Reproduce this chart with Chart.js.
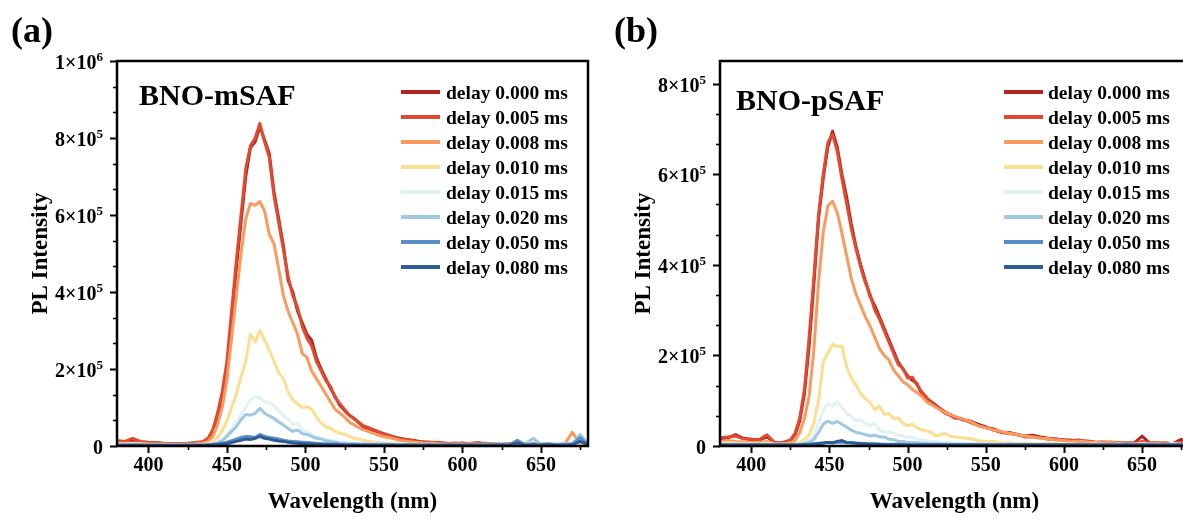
<!DOCTYPE html>
<html>
<head>
<meta charset="utf-8">
<title>Time-resolved PL spectra</title>
<script src="https://cdn.jsdelivr.net/npm/chart.js@4.4.0/dist/chart.umd.min.js"></script>
<style>
    html, body { margin: 0; padding: 0; background: #fff; overflow: hidden; }
    body { width: 1183px; height: 519px; position: relative; }
    .panel { position: absolute; top: 0; width: 600px; height: 519px; }
    #panelA { left: 0; }
    #panelB { left: 600px; }
</style>
</head>
<body>
<div class="panel" id="panelA"><canvas id="chartA" width="600" height="519"></canvas></div>
<div class="panel" id="panelB"><canvas id="chartB" width="600" height="519"></canvas></div>

<script>
// ================= DATA =================
// PL intensity in units of 1e5 counts, one array per delay time

const delayLabels = ['delay 0.000 ms', 'delay 0.005 ms', 'delay 0.008 ms', 'delay 0.010 ms',
                     'delay 0.015 ms', 'delay 0.020 ms', 'delay 0.050 ms', 'delay 0.080 ms'];
const lineColors = ['#b3241f', '#e04a30', '#f99b5e', '#fddd8f', '#e2f2f3', '#9fc8e1', '#5a8ec6', '#2d5b96'];

const xTicks = [400, 450, 500, 550, 600, 650];

// --- BNO-mSAF ---
const wavelengthA = [380, 385, 390, 395, 400, 405, 410, 415, 420, 425, 430, 435,
    438, 441, 444, 447, 450, 453, 456, 459, 462, 465, 468, 471, 474, 477, 480, 483, 486, 489, 492, 495, 498,
    501, 504, 507, 510, 513, 516, 519, 522, 525, 528, 531, 534, 537, 540,
    545, 550, 555, 560, 565, 570, 575, 580, 585, 590, 595, 600, 605, 610, 615, 620, 625, 630, 635, 640,
    645, 650, 655, 660, 665, 670, 675, 680];

const mSAF000 = [0.12, 0.10, 0.15, 0.10, 0.09, 0.08, 0.06, 0.05, 0.05, 0.06, 0.08, 0.09,
    0.15, 0.35, 0.75, 1.30, 2.00, 3.30, 4.60, 5.80, 7.00, 7.75, 7.90, 8.30, 7.95, 7.60, 6.60, 5.90, 5.20, 4.30, 4.00, 3.50, 3.20,
    2.90, 2.75, 2.30, 2.00, 1.75, 1.50, 1.28, 1.05, 0.92, 0.80, 0.72, 0.60, 0.50, 0.45,
    0.38, 0.32, 0.25, 0.20, 0.16, 0.14, 0.10, 0.10, 0.08, 0.07, 0.06, 0.08, 0.05, 0.06, 0.07, 0.04, 0.05, 0.04, 0.06, 0.05,
    0.04, 0.03, 0.05, 0.04, 0.05, 0.06, 0.05, 0.04];
const mSAF005 = [0.14, 0.12, 0.20, 0.12, 0.10, 0.09, 0.07, 0.06, 0.05, 0.07, 0.09, 0.12,
    0.20, 0.42, 0.85, 1.40, 2.20, 3.50, 4.80, 6.00, 7.20, 7.80, 8.00, 8.38, 7.90, 7.50, 6.50, 5.80, 5.10, 4.40, 3.90, 3.60, 3.10,
    2.80, 2.60, 2.20, 1.95, 1.70, 1.55, 1.25, 1.10, 0.95, 0.80, 0.70, 0.62, 0.52, 0.48,
    0.40, 0.30, 0.26, 0.18, 0.17, 0.12, 0.11, 0.09, 0.10, 0.06, 0.08, 0.06, 0.07, 0.09, 0.05, 0.06, 0.04, 0.06, 0.05, 0.04,
    0.06, 0.05, 0.04, 0.06, 0.04, 0.08, 0.06, 0.05];
const mSAF008 = [0.08, 0.07, 0.08, 0.07, 0.06, 0.05, 0.05, 0.04, 0.04, 0.05, 0.06, 0.08,
    0.12, 0.25, 0.55, 1.00, 1.70, 2.80, 3.90, 5.00, 5.90, 6.30, 6.25, 6.35, 6.10, 5.50, 5.25, 4.60, 3.90, 3.50, 3.20, 2.90, 2.40,
    2.30, 1.95, 1.75, 1.55, 1.35, 1.15, 0.95, 0.85, 0.75, 0.62, 0.55, 0.48, 0.42, 0.38,
    0.30, 0.24, 0.20, 0.15, 0.12, 0.10, 0.08, 0.07, 0.06, 0.05, 0.06, 0.05, 0.04, 0.05, 0.04, 0.05, 0.04, 0.03, 0.04, 0.05,
    0.03, 0.04, 0.03, 0.05, 0.04, 0.36, 0.05, 0.04];
const mSAF010 = [0.05, 0.05, 0.06, 0.05, 0.04, 0.04, 0.04, 0.04, 0.03, 0.04, 0.04, 0.05,
    0.06, 0.12, 0.22, 0.40, 0.65, 1.00, 1.35, 1.80, 2.20, 2.90, 2.70, 3.00, 2.75, 2.50, 2.20, 1.90, 1.75, 1.40, 1.20, 1.10, 1.00,
    1.02, 0.95, 0.75, 0.60, 0.50, 0.45, 0.38, 0.33, 0.30, 0.25, 0.20, 0.18, 0.15, 0.12,
    0.10, 0.08, 0.07, 0.06, 0.05, 0.05, 0.04, 0.05, 0.04, 0.04, 0.03, 0.04, 0.05, 0.04, 0.03, 0.04, 0.04, 0.03, 0.05, 0.04,
    0.03, 0.04, 0.05, 0.03, 0.04, 0.06, 0.04, 0.03];
const mSAF015 = [0.04, 0.04, 0.05, 0.04, 0.03, 0.03, 0.03, 0.03, 0.03, 0.03, 0.04, 0.04,
    0.05, 0.06, 0.10, 0.18, 0.30, 0.45, 0.62, 0.80, 1.00, 1.20, 1.28, 1.25, 1.15, 1.12, 1.05, 0.92, 0.78, 0.70, 0.55, 0.60, 0.42,
    0.36, 0.30, 0.24, 0.20, 0.18, 0.15, 0.13, 0.10, 0.09, 0.08, 0.07, 0.07, 0.06, 0.06,
    0.05, 0.05, 0.04, 0.05, 0.04, 0.04, 0.03, 0.04, 0.04, 0.03, 0.04, 0.04, 0.03, 0.04, 0.03, 0.04, 0.05, 0.03, 0.04, 0.06,
    0.04, 0.03, 0.05, 0.08, 0.04, 0.10, 0.18, 0.06];
const mSAF020 = [0.03, 0.03, 0.04, 0.03, 0.03, 0.03, 0.02, 0.02, 0.02, 0.03, 0.03, 0.03,
    0.04, 0.05, 0.08, 0.14, 0.25, 0.38, 0.50, 0.68, 0.82, 0.80, 0.85, 0.98, 0.85, 0.78, 0.72, 0.62, 0.55, 0.45, 0.38, 0.42, 0.32,
    0.30, 0.25, 0.20, 0.18, 0.14, 0.12, 0.10, 0.08, 0.07, 0.06, 0.06, 0.05, 0.05, 0.05,
    0.04, 0.05, 0.04, 0.04, 0.03, 0.04, 0.04, 0.03, 0.04, 0.04, 0.03, 0.04, 0.04, 0.03, 0.05, 0.04, 0.03, 0.04, 0.06, 0.05,
    0.20, 0.04, 0.05, 0.04, 0.06, 0.05, 0.30, 0.05];
const mSAF050 = [0.02, 0.02, 0.02, 0.02, 0.02, 0.02, 0.02, 0.02, 0.02, 0.02, 0.02, 0.02,
    0.03, 0.04, 0.05, 0.07, 0.10, 0.14, 0.18, 0.22, 0.25, 0.24, 0.22, 0.30, 0.25, 0.22, 0.20, 0.18, 0.15, 0.13, 0.12, 0.11, 0.10,
    0.09, 0.08, 0.07, 0.06, 0.06, 0.05, 0.05, 0.04, 0.04, 0.04, 0.04, 0.03, 0.03, 0.03,
    0.03, 0.03, 0.03, 0.02, 0.03, 0.03, 0.02, 0.03, 0.02, 0.03, 0.03, 0.02, 0.03, 0.03, 0.02, 0.03, 0.04, 0.03, 0.15, 0.03,
    0.04, 0.03, 0.05, 0.03, 0.04, 0.05, 0.22, 0.04];
const mSAF080 = [0.02, 0.02, 0.02, 0.02, 0.02, 0.02, 0.02, 0.02, 0.02, 0.02, 0.02, 0.02,
    0.02, 0.03, 0.04, 0.05, 0.06, 0.09, 0.12, 0.15, 0.18, 0.17, 0.20, 0.25, 0.20, 0.18, 0.15, 0.13, 0.12, 0.10, 0.08, 0.07, 0.06,
    0.05, 0.05, 0.04, 0.04, 0.03, 0.03, 0.03, 0.03, 0.02, 0.02, 0.02, 0.02, 0.02, 0.02,
    0.02, 0.02, 0.02, 0.02, 0.02, 0.02, 0.02, 0.02, 0.02, 0.02, 0.02, 0.02, 0.02, 0.02, 0.02, 0.02, 0.02, 0.02, 0.08, 0.02,
    0.03, 0.02, 0.03, 0.02, 0.02, 0.03, 0.12, 0.03];

const yTicksA = [0, 2, 4, 6, 8, 10];
const yTickLabelsA = ['0', '2×10⁵', '4×10⁵', '6×10⁵', '8×10⁵', '1×10⁶'];

// --- BNO-pSAF ---
const wavelengthB = [380, 385, 390, 395, 400, 405, 410, 415, 420, 425,
    428, 431, 434, 437, 440, 443, 446, 449, 452, 455, 458, 461, 464, 467, 470, 473, 476, 479, 482, 485, 488,
    491, 494, 497, 500, 503, 506, 509, 512, 515, 518, 521, 524, 527, 530,
    535, 540, 545, 550, 555, 560, 565, 570, 575, 580, 585, 590, 595, 600, 605, 610, 615, 620, 625, 630,
    635, 640, 645, 650, 655, 660, 665, 670, 675, 680];

const pSAF000 = [0.15, 0.18, 0.25, 0.17, 0.15, 0.13, 0.20, 0.08, 0.07, 0.12,
    0.25, 0.55, 1.15, 2.20, 3.55, 5.00, 5.90, 6.60, 6.95, 6.60, 6.00, 5.50, 4.90, 4.40, 4.00, 3.65, 3.30, 3.10, 2.85, 2.60, 2.35,
    2.10, 1.85, 1.70, 1.55, 1.45, 1.38, 1.15, 1.05, 0.98, 0.90, 0.82, 0.75, 0.70, 0.65,
    0.58, 0.55, 0.48, 0.42, 0.35, 0.30, 0.30, 0.25, 0.22, 0.24, 0.20, 0.17, 0.15, 0.14, 0.12, 0.13, 0.10, 0.08, 0.09, 0.07,
    0.08, 0.06, 0.07, 0.22, 0.06, 0.07, 0.05, 0.06, 0.15, 0.06];
const pSAF005 = [0.18, 0.20, 0.22, 0.16, 0.14, 0.14, 0.25, 0.07, 0.08, 0.13,
    0.28, 0.62, 1.25, 2.40, 3.70, 5.10, 6.00, 6.70, 6.88, 6.50, 5.90, 5.35, 4.80, 4.35, 3.95, 3.60, 3.35, 3.00, 2.80, 2.55, 2.30,
    2.05, 1.80, 1.72, 1.50, 1.52, 1.35, 1.20, 1.08, 0.95, 0.88, 0.80, 0.72, 0.68, 0.62,
    0.60, 0.52, 0.45, 0.40, 0.38, 0.30, 0.27, 0.26, 0.20, 0.20, 0.18, 0.15, 0.16, 0.12, 0.13, 0.10, 0.11, 0.09, 0.08, 0.09,
    0.07, 0.08, 0.06, 0.10, 0.07, 0.06, 0.07, 0.05, 0.08, 0.07];
const pSAF008 = [0.10, 0.12, 0.10, 0.09, 0.08, 0.08, 0.10, 0.05, 0.05, 0.07,
    0.12, 0.30, 0.60, 1.10, 2.10, 3.60, 4.70, 5.30, 5.40, 5.15, 4.70, 4.20, 3.70, 3.35, 3.10, 2.85, 2.65, 2.40, 2.15, 2.00, 1.90,
    1.68, 1.55, 1.42, 1.35, 1.25, 1.18, 1.10, 0.98, 0.92, 0.85, 0.80, 0.74, 0.70, 0.66,
    0.60, 0.54, 0.45, 0.40, 0.35, 0.32, 0.28, 0.25, 0.22, 0.20, 0.17, 0.16, 0.13, 0.12, 0.10, 0.11, 0.09, 0.08, 0.07, 0.08,
    0.06, 0.07, 0.05, 0.06, 0.05, 0.06, 0.04, 0.05, 0.04, 0.05];
const pSAF010 = [0.06, 0.07, 0.06, 0.06, 0.05, 0.05, 0.06, 0.04, 0.04, 0.04,
    0.05, 0.08, 0.14, 0.25, 0.50, 1.00, 1.85, 2.05, 2.25, 2.20, 2.20, 1.75, 1.50, 1.35, 1.15, 1.05, 0.95, 0.80, 0.88, 0.70, 0.72,
    0.60, 0.62, 0.50, 0.45, 0.48, 0.40, 0.36, 0.33, 0.30, 0.22, 0.25, 0.28, 0.22, 0.20,
    0.18, 0.16, 0.12, 0.10, 0.10, 0.08, 0.07, 0.06, 0.06, 0.05, 0.05, 0.06, 0.05, 0.04, 0.05, 0.04, 0.04, 0.05, 0.04, 0.03,
    0.04, 0.04, 0.03, 0.05, 0.04, 0.03, 0.04, 0.03, 0.04, 0.03];
const pSAF015 = [0.04, 0.05, 0.04, 0.04, 0.04, 0.03, 0.04, 0.03, 0.03, 0.03,
    0.04, 0.05, 0.08, 0.14, 0.25, 0.50, 0.78, 0.95, 0.88, 0.98, 0.85, 0.72, 0.65, 0.55, 0.58, 0.50, 0.45, 0.50, 0.35, 0.30, 0.32,
    0.28, 0.24, 0.22, 0.18, 0.20, 0.15, 0.13, 0.12, 0.10, 0.10, 0.09, 0.08, 0.08, 0.07,
    0.06, 0.06, 0.05, 0.05, 0.04, 0.05, 0.04, 0.04, 0.03, 0.04, 0.04, 0.03, 0.04, 0.03, 0.04, 0.03, 0.03, 0.04, 0.03, 0.03,
    0.04, 0.03, 0.03, 0.05, 0.03, 0.04, 0.03, 0.06, 0.03, 0.04];
const pSAF020 = [0.03, 0.03, 0.03, 0.03, 0.03, 0.02, 0.03, 0.02, 0.02, 0.02,
    0.03, 0.04, 0.05, 0.08, 0.14, 0.30, 0.48, 0.55, 0.50, 0.54, 0.48, 0.42, 0.35, 0.30, 0.28, 0.25, 0.22, 0.24, 0.20, 0.20, 0.15,
    0.14, 0.10, 0.10, 0.08, 0.08, 0.07, 0.06, 0.06, 0.05, 0.05, 0.05, 0.04, 0.04, 0.04,
    0.04, 0.03, 0.04, 0.03, 0.03, 0.03, 0.04, 0.03, 0.03, 0.03, 0.02, 0.03, 0.03, 0.02, 0.03, 0.03, 0.02, 0.03, 0.02, 0.03,
    0.03, 0.02, 0.03, 0.04, 0.03, 0.02, 0.03, 0.04, 0.03, 0.02];
const pSAF050 = [0.03, 0.03, 0.03, 0.03, 0.03, 0.03, 0.03, 0.03, 0.03, 0.03,
    0.03, 0.03, 0.04, 0.04, 0.05, 0.06, 0.07, 0.08, 0.07, 0.09, 0.08, 0.07, 0.07, 0.06, 0.06, 0.05, 0.05, 0.05, 0.04, 0.04, 0.04,
    0.04, 0.04, 0.03, 0.03, 0.03, 0.03, 0.03, 0.03, 0.03, 0.03, 0.03, 0.03, 0.03, 0.03,
    0.03, 0.03, 0.03, 0.03, 0.03, 0.03, 0.03, 0.03, 0.03, 0.03, 0.03, 0.03, 0.03, 0.03, 0.03, 0.03, 0.03, 0.03, 0.03, 0.03,
    0.03, 0.05, 0.03, 0.03, 0.03, 0.03, 0.03, 0.03, 0.03, 0.03];
const pSAF080 = [0.02, 0.02, 0.02, 0.02, 0.02, 0.02, 0.02, 0.02, 0.02, 0.02,
    0.02, 0.02, 0.03, 0.03, 0.04, 0.05, 0.06, 0.08, 0.07, 0.10, 0.12, 0.08, 0.07, 0.06, 0.05, 0.05, 0.04, 0.04, 0.04, 0.03, 0.03,
    0.03, 0.03, 0.03, 0.02, 0.02, 0.02, 0.02, 0.02, 0.02, 0.02, 0.02, 0.02, 0.02, 0.02,
    0.02, 0.02, 0.02, 0.02, 0.02, 0.02, 0.02, 0.02, 0.02, 0.02, 0.02, 0.02, 0.02, 0.02, 0.02, 0.02, 0.02, 0.02, 0.02, 0.02,
    0.02, 0.02, 0.02, 0.02, 0.02, 0.02, 0.02, 0.02, 0.02, 0.02];

const yTicksB = [0, 2, 4, 6, 8];
const yTickLabelsB = ['0', '2×10⁵', '4×10⁵', '6×10⁵', '8×10⁵'];

// ================= STYLE =================

const FONT = '"Liberation Serif", "Times New Roman", serif';
const SUPERSCRIPTS = { '⁰': '0', '¹': '1', '²': '2', '³': '3', '⁴': '4', '⁵': '5', '⁶': '6', '⁷': '7', '⁸': '8', '⁹': '9' };

// split '8×10⁵' into base '8×10' and exponent '5'
function splitPower(label) {
    let base = '', exp = '';
    for (const ch of label) {
        if (SUPERSCRIPTS[ch]) exp += SUPERSCRIPTS[ch];
        else base += ch;
    }
    return { base, exp };
}

// ================= DECORATION PLUGIN =================
// frame box, outward major/minor ticks, y labels with raised exponent,
// panel letter, sample name, legend

const panelDecor = {
    id: 'panelDecor',
    afterDraw(chart, args, opts) {
        const ctx = chart.ctx;
        const { left, right, top, bottom } = chart.chartArea;
        const xs = chart.scales.x;
        const ys = chart.scales.y;

        ctx.save();
        ctx.strokeStyle = '#000';

        // x ticks: majors every 50, one minor between
        const xStep = xTicks[1] - xTicks[0];
        for (let v = xTicks[0] - xStep; v <= xTicks[xTicks.length - 1] + xStep; v += xStep / 2) {
            if (v < xs.min || v > xs.max) continue;
            const major = xTicks.includes(v);
            const px = Math.round(xs.getPixelForValue(v)) + 0.5;
            ctx.lineWidth = major ? 2 : 1.6;
            ctx.beginPath();
            ctx.moveTo(px, bottom);
            ctx.lineTo(px, bottom + (major ? 7 : 4));
            ctx.stroke();
        }

        // y ticks: two minors between majors
        const yt = opts.yTicks;
        const yStep = yt[1] - yt[0];
        for (let k = 0; k <= yt.length * 3; k++) {
            const v = yt[0] + k * yStep / 3;
            if (v > ys.max + 1e-9) break;
            const major = k % 3 === 0;
            const py = Math.round(ys.getPixelForValue(v)) + 0.5;
            ctx.lineWidth = major ? 2 : 1.6;
            ctx.beginPath();
            ctx.moveTo(left, py);
            ctx.lineTo(left - (major ? 7 : 4), py);
            ctx.stroke();
        }

        // y tick labels, exponent drawn smaller and raised
        ctx.fillStyle = '#000';
        ctx.textAlign = 'left';
        ctx.textBaseline = 'alphabetic';
        const labelRight = left - 14;
        yt.forEach((v, i) => {
            const { base, exp } = splitPower(opts.yTickLabels[i]);
            const py = ys.getPixelForValue(v);
            ctx.font = 'bold 20px ' + FONT;
            const wBase = ctx.measureText(base).width;
            ctx.font = 'bold 13px ' + FONT;
            const wExp = exp ? ctx.measureText(exp).width : 0;
            const x0 = labelRight - wBase - wExp;
            ctx.font = 'bold 20px ' + FONT;
            ctx.fillText(base, x0, py + 8);
            if (exp) {
                ctx.font = 'bold 13px ' + FONT;
                ctx.fillText(exp, x0 + wBase, py);
            }
        });

        // frame
        ctx.lineWidth = 2.5;
        ctx.strokeRect(left, top, right - left, bottom - top);

        // panel letter and sample name
        ctx.font = 'bold 36px ' + FONT;
        ctx.fillText(opts.letter, opts.letterX, 42);
        ctx.font = 'bold 30px ' + FONT;
        ctx.fillText(opts.sample, opts.sampleX, opts.sampleY);

        // legend
        const leg = opts.legend;
        ctx.font = 'bold 19.5px ' + FONT;
        ctx.textBaseline = 'middle';
        chart.data.datasets.forEach((ds, i) => {
            const y = leg.y0 + i * leg.dy;
            ctx.strokeStyle = ds.borderColor;
            ctx.lineWidth = 4;
            ctx.beginPath();
            ctx.moveTo(leg.x0, y);
            ctx.lineTo(leg.x1, y);
            ctx.stroke();
            ctx.fillText(ds.label, leg.textX, y + 1.5);
        });
        ctx.restore();
    }
};

// ================= CHARTS =================

function buildPanel(canvasId, panel) {
    const datasets = panel.series.map((values, i) => ({
        label: delayLabels[i],
        data: panel.wavelengths.map((w, k) => ({ x: w, y: values[k] })),
        borderColor: lineColors[i],
        backgroundColor: lineColors[i],
        borderWidth: 3,
        borderJoinStyle: 'round',
        pointRadius: 0,
        tension: 0,
        order: panel.series.length - i      // later delays drawn on top
    }));

    const tickFont = { family: FONT, size: 20, weight: 'bold' };
    const titleFont = { family: FONT, size: 23, weight: 'bold' };

    return new Chart(document.getElementById(canvasId), {
        type: 'line',
        data: { datasets },
        options: {
            responsive: false,
            animation: false,
            layout: { padding: { top: 61, right: panel.padRight, left: 0, bottom: 0 } },
            plugins: {
                legend: { display: false },
                tooltip: { enabled: false },
                panelDecor: {
                    yTicks: panel.yTicks,
                    yTickLabels: panel.yTickLabels,
                    letter: panel.letter,
                    letterX: panel.letterX,
                    sample: panel.sample,
                    sampleX: panel.sampleX,
                    sampleY: panel.sampleY,
                    legend: panel.legend
                }
            },
            scales: {
                x: {
                    type: 'linear',
                    min: 380,
                    max: 680,
                    afterBuildTicks: s => { s.ticks = xTicks.map(v => ({ value: v })); },
                    afterFit: s => { s.height = 73; },
                    grid: { display: false, drawTicks: false },
                    border: { display: false },
                    ticks: {
                        font: tickFont, color: '#000', padding: 8,
                        maxRotation: 0, autoSkip: false,
                        callback: v => String(v)
                    },
                    title: {
                        display: true, text: 'Wavelength (nm)', font: titleFont, color: '#000',
                        padding: { top: 0, bottom: 3 }
                    }
                },
                y: {
                    type: 'linear',
                    min: 0,
                    max: panel.yMax,
                    afterBuildTicks: s => { s.ticks = panel.yTicks.map(v => ({ value: v })); },
                    afterFit: s => { s.width = panel.yAxisWidth; },
                    grid: { display: false, drawTicks: false },
                    border: { display: false },
                    ticks: { display: false },
                    title: {
                        display: true, text: 'PL Intensity', font: titleFont, color: '#000',
                        padding: { top: panel.yTitlePad, bottom: 0 }
                    }
                }
            }
        },
        plugins: [panelDecor]
    });
}

document.addEventListener('DOMContentLoaded', () => {
    buildPanel('chartA', {
        wavelengths: wavelengthA,
        series: [mSAF000, mSAF005, mSAF008, mSAF010, mSAF015, mSAF020, mSAF050, mSAF080],
        yMax: 10,
        yTicks: yTicksA,
        yTickLabels: yTickLabelsA,
        yAxisWidth: 117,
        yTitlePad: 27,
        padRight: 12,
        letter: '(a)', letterX: 11,
        sample: 'BNO-mSAF', sampleX: 139, sampleY: 105,
        legend: { x0: 401, x1: 440, textX: 446, y0: 92, dy: 25 }
    });

    buildPanel('chartB', {
        wavelengths: wavelengthB,
        series: [pSAF000, pSAF005, pSAF008, pSAF010, pSAF015, pSAF020, pSAF050, pSAF080],
        yMax: 8.5,
        yTicks: yTicksB,
        yTickLabels: yTickLabelsB,
        yAxisWidth: 120,
        yTitlePad: 30,
        padRight: 11,
        letter: '(b)', letterX: 14,
        sample: 'BNO-pSAF', sampleX: 136, sampleY: 110,
        legend: { x0: 404, x1: 443, textX: 448, y0: 92, dy: 25 }
    });
});
</script>
</body>
</html>
